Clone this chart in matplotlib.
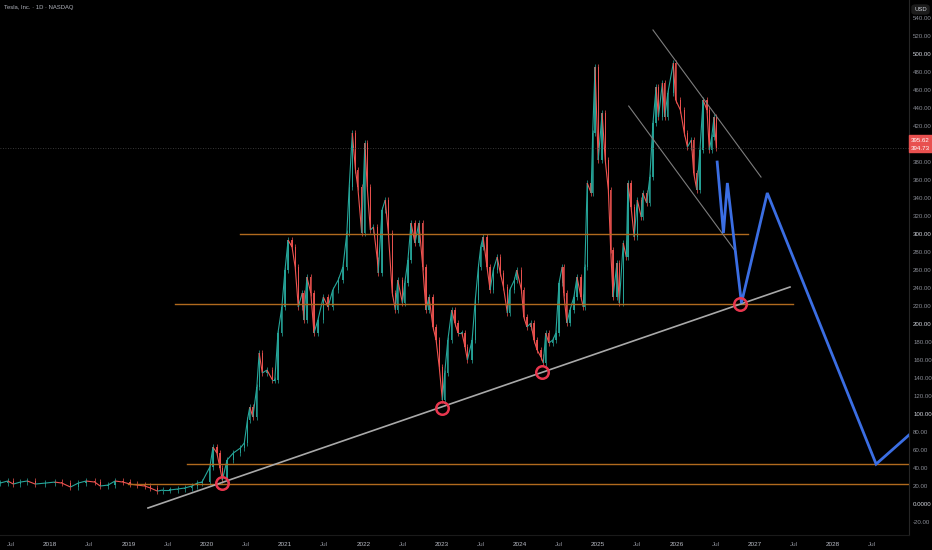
import numpy as np
import matplotlib.pyplot as plt
from matplotlib.patches import FancyBboxPatch, Rectangle
from matplotlib.collections import LineCollection

plt.rcParams['font.family'] = ['Liberation Sans', 'DejaVu Sans']

# price path (decimal year, close)
dates = [2017.36, 2017.46, 2017.53, 2017.62, 2017.71, 2017.81, 2017.94, 2018.06, 2018.15, 2018.26,
         2018.36, 2018.46, 2018.57, 2018.64, 2018.74, 2018.83, 2018.93, 2019.02, 2019.11, 2019.21,
         2019.28, 2019.37, 2019.44, 2019.53, 2019.63, 2019.72, 2019.81, 2019.88, 2019.94, 2020.04,
         2020.08, 2020.13, 2020.17, 2020.20, 2020.26, 2020.34, 2020.43, 2020.48, 2020.52, 2020.55,
         2020.59, 2020.64, 2020.67, 2020.71, 2020.77, 2020.84, 2020.87, 2020.91, 2020.96, 2021.00,
         2021.04, 2021.09, 2021.13, 2021.17, 2021.22, 2021.24, 2021.28, 2021.33, 2021.37, 2021.42,
         2021.49, 2021.55, 2021.61, 2021.68, 2021.74, 2021.79, 2021.82, 2021.86, 2021.90, 2021.93,
         2021.98, 2022.02, 2022.05, 2022.09, 2022.13, 2022.18, 2022.19, 2022.24, 2022.28, 2022.32,
         2022.37, 2022.41, 2022.44, 2022.50, 2022.53, 2022.57, 2022.61, 2022.66, 2022.71, 2022.76,
         2022.80, 2022.84, 2022.89, 2022.93, 2022.97, 2023.01, 2023.04, 2023.08, 2023.13, 2023.17,
         2023.21, 2023.26, 2023.30, 2023.33, 2023.39, 2023.43, 2023.47, 2023.50, 2023.53, 2023.58,
         2023.62, 2023.66, 2023.71, 2023.75, 2023.79, 2023.84, 2023.87, 2023.93, 2023.96, 2024.02,
         2024.05, 2024.09, 2024.14, 2024.18, 2024.22, 2024.27, 2024.30, 2024.33, 2024.37, 2024.42,
         2024.46, 2024.50, 2024.54, 2024.56, 2024.60, 2024.64, 2024.69, 2024.73, 2024.78, 2024.81,
         2024.83, 2024.86, 2024.91, 2024.93, 2024.96, 2025.00, 2025.05, 2025.09, 2025.13, 2025.16,
         2025.19, 2025.24, 2025.27, 2025.32, 2025.36, 2025.38, 2025.42, 2025.46, 2025.50, 2025.55,
         2025.57, 2025.62, 2025.66, 2025.70, 2025.74, 2025.77, 2025.82, 2025.85, 2025.89, 2025.96,
         2025.99, 2026.05, 2026.10, 2026.14, 2026.19, 2026.22, 2026.26, 2026.30, 2026.34, 2026.39,
         2026.42, 2026.45, 2026.48, 2026.51]
closes = [23.3, 25.6, 22.2, 24.4, 25.6, 22.2, 23.3, 24.4, 23.3, 18.9,
          23.3, 25.6, 24.4, 20.0, 21.1, 25.6, 24.4, 22.2, 21.1, 20.0,
          17.8, 14.4, 15.6, 15.6, 16.7, 17.8, 20.0, 23.3, 24.4, 41.1,
          63.3, 56.7, 40.0, 26.7, 48.9, 56.7, 62.2, 67.8, 93.3, 107.8,
          96.7, 130.0, 167.8, 145.6, 148.9, 137.8, 137.8, 190.0, 218.9, 260.0,
          293.3, 285.6, 263.3, 218.9, 234.4, 204.4, 252.2, 234.4, 190.0, 204.4,
          230.0, 218.9, 237.8, 248.9, 263.3, 301.1, 352.2, 412.2, 371.1, 352.2,
          301.1, 401.1, 352.2, 304.4, 307.8, 271.1, 256.7, 326.7, 337.8, 301.1,
          234.4, 215.6, 248.9, 223.3, 245.6, 271.1, 312.2, 290.0, 312.2, 263.3,
          215.6, 230.0, 196.7, 182.2, 152.2, 115.6, 145.6, 182.2, 215.6, 201.1,
          190.0, 190.0, 174.4, 160.0, 182.2, 226.7, 263.3, 285.6, 296.7, 263.3,
          237.8, 260.0, 274.4, 256.7, 241.1, 212.2, 237.8, 248.9, 260.0, 237.8,
          207.8, 196.7, 201.1, 182.2, 171.1, 163.3, 156.7, 190.0, 178.9, 182.2,
          190.0, 245.6, 263.3, 234.4, 201.1, 215.6, 230.0, 252.2, 230.0, 218.9,
          263.3, 356.7, 345.6, 412.2, 485.6, 382.2, 434.4, 382.2, 348.9, 282.2,
          230.0, 267.8, 223.3, 290.0, 274.4, 356.7, 330.0, 296.7, 337.8, 318.9,
          345.6, 334.4, 363.3, 423.3, 463.3, 430.0, 467.8, 430.0, 456.7, 490.0,
          448.9, 437.8, 412.2, 396.7, 404.4, 367.8, 348.9, 393.3, 448.9, 437.8,
          393.3, 407.8, 430.0, 395.62]

last_price = 395.62
prev_price = 394.73

# drawn levels: (price, start, end)
levels = [300.0, 222.8, 44.4, 22.2]
level_start = [2020.43, 2019.60, 2019.75, 2019.00]
level_end = [2026.91, 2027.49, 2029.5, 2029.5]

trend_t = [2019.25, 2027.45]
trend_p = [-4.4, 241.1]
chan_up_t = [2025.70, 2027.08]
chan_up_p = [526.7, 363.3]
chan_lo_t = [2025.39, 2026.76]
chan_lo_p = [442.2, 280.0]

proj_t = [2026.52, 2026.60, 2026.65, 2026.83, 2027.16, 2028.55, 2028.97]
proj_p = [380.0, 301.1, 356.7, 223.3, 345.6, 44.4, 76.7]

touch_t = [2020.20, 2023.01, 2024.28, 2026.81]
touch_p = [23.3, 106.7, 146.7, 222.2]

BG = '#000000'
TXT = '#8a8d96'
GREEN = '#26a69a'
RED = '#ef5350'

fig = plt.figure(figsize=(9.32, 5.5), dpi=100, facecolor=BG)
ax = fig.add_axes([0, 15 / 550, 909 / 932, 535 / 550])
ax.set_facecolor(BG)

# candles, open = previous close
opens = [closes[0]] + closes[:-1]
segs, seg_cols = [], []
for i, (t, o, c) in enumerate(zip(dates, opens, closes)):
    col = GREEN if c >= o else RED
    lo, hi = min(o, c), max(o, c)
    ax.add_patch(Rectangle((t - 0.008, lo), 0.016, max(hi - lo, 0.8), color=col, lw=0, alpha=0.9))
    ax.vlines(t, lo - 3, hi + 3, color=col, lw=0.5)
    if i > 0:
        segs.append([(dates[i - 1], o), (t, c)])
        seg_cols.append(col)
ax.add_collection(LineCollection(segs, colors=seg_cols, linewidths=0.8))

for p, a, b in zip(levels, level_start, level_end):
    ax.plot([a, b], [p, p], color='#b06a1e', lw=1.0)

ax.plot(trend_t, trend_p, color='#a9a9a9', lw=1.2)
ax.plot(chan_up_t, chan_up_p, color='#7d7d7d', lw=0.8)
ax.plot(chan_lo_t, chan_lo_p, color='#7d7d7d', lw=0.8)
ax.plot(proj_t, proj_p, color='#3b6ee3', lw=2.0, solid_joinstyle='miter')
ax.plot(touch_t, touch_p, ls='none', marker='o', ms=9, mfc='none', mec='#e8364e', mew=1.8)

ax.axhline(last_price, color='#4a4a4a', lw=0.6, ls=(0, (1, 2)))

ax.set_xlim(2017.36, 2028.97)
ax.set_ylim(-34.4, 560)

# axes styling
for s in ax.spines.values():
    s.set_visible(False)
ax.spines['right'].set_visible(True)
ax.spines['right'].set_color('#262626')
ax.spines['bottom'].set_visible(True)
ax.spines['bottom'].set_color('#1a1a1a')

yt = np.arange(-20, 541, 20)
ax.set_yticks(yt)
ax.set_yticklabels(['0.0000' if v == 0 else f'{v:.2f}' for v in yt])
ax.yaxis.tick_right()
ax.tick_params(axis='y', length=0, pad=3, labelsize=4.4, colors=TXT)
for lab, v in zip(ax.get_yticklabels(), yt):
    if v % 100 == 0:
        lab.set_color('#d1d4dc')

xt = []
xl = []
for yr in range(2017, 2029):
    if yr >= 2018:
        xt.append(yr)
        xl.append(str(yr))
    xt.append(yr + 0.5)
    xl.append('Jul')
ax.set_xticks(xt)
ax.set_xticklabels(xl)
ax.tick_params(axis='x', length=0, pad=5, labelsize=4.6, colors=TXT)
for lab in ax.get_xticklabels():
    if lab.get_text() != 'Jul':
        lab.set_color('#b8bbc4')

# price label on the axis
fig.patches.append(Rectangle((909 / 932, 1 - 152 / 550), 23 / 932, 17 / 550,
                             transform=fig.transFigure, color='#e8504f', zorder=5))
fig.text(920.5 / 932, 1 - 140 / 550, f'{last_price:.2f}', color='white', fontsize=4.4,
         ha='center', va='center', zorder=6)
fig.text(920.5 / 932, 1 - 148 / 550, f'{prev_price:.2f}', color='white', fontsize=4.4,
         ha='center', va='center', zorder=6)

# USD box
fig.patches.append(FancyBboxPatch((912 / 932, 1 - 14 / 550), 17 / 932, 9 / 550,
                                  boxstyle='round,pad=0,rounding_size=0.004',
                                  transform=fig.transFigure, color='#1c1c1c', zorder=5))
fig.text(920.5 / 932, 1 - 9.5 / 550, 'USD', color='#d1d4dc', fontsize=4.2,
         ha='center', va='center', zorder=6)

fig.text(4 / 932, 1 - 7 / 550, 'Tesla, Inc. · 1D · NASDAQ', color='#b2b5be', fontsize=4.2,
         ha='left', va='center')

fig.savefig('out.png', dpi=100, facecolor=BG)
